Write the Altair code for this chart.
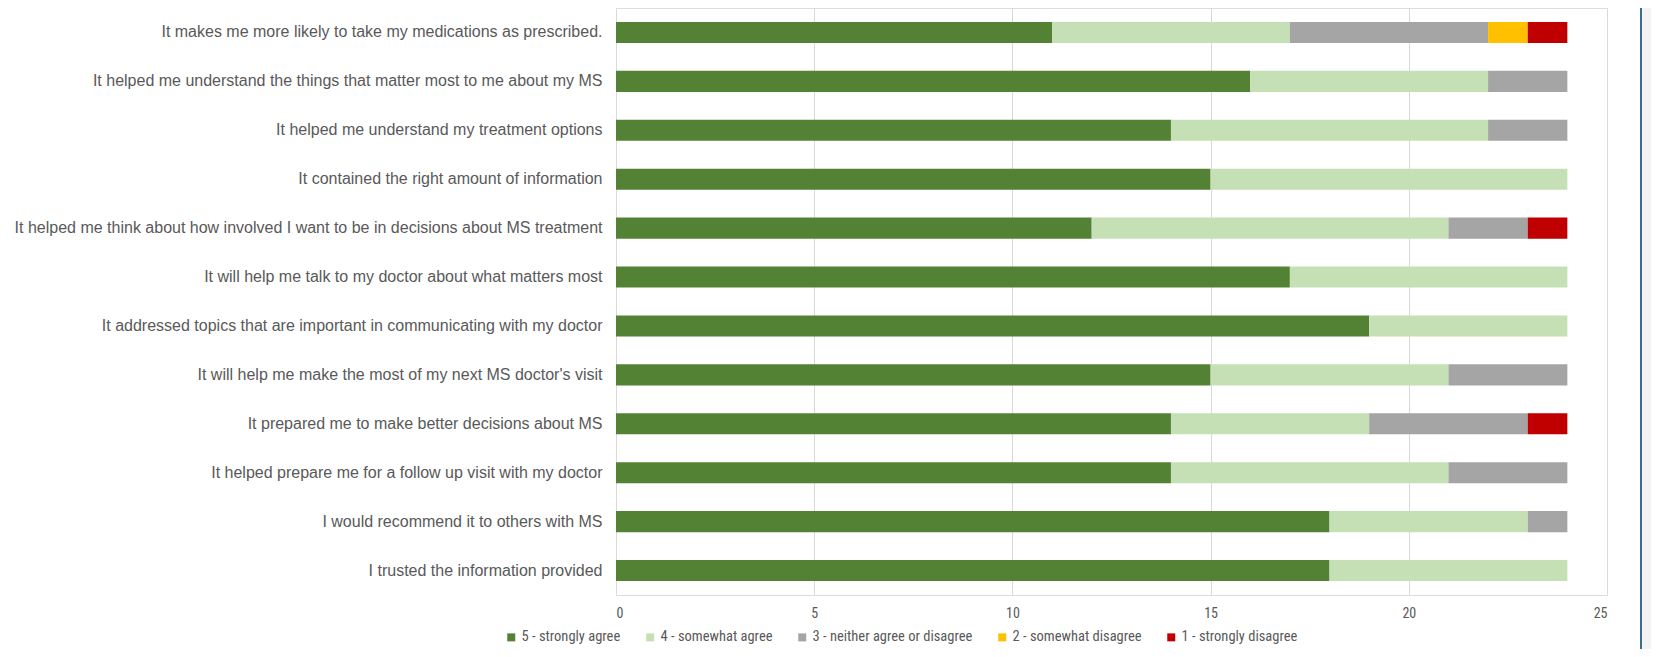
import altair as alt
import pandas as pd

questions = [
    "It makes me more likely to take my medications as prescribed.",
    "It helped me understand the things that matter most to me about my MS",
    "It helped me understand my treatment options",
    "It contained the right amount of information",
    "It helped me think about how involved I want to be in decisions about MS treatment",
    "It will help me talk to my doctor about what matters most",
    "It addressed topics that are important in communicating with my doctor",
    "It will help me make the most of my next MS doctor's visit",
    "It prepared me to make better decisions about MS",
    "It helped prepare me for a follow up visit with my doctor",
    "I would recommend it to others with MS",
    "I trusted the information provided",
]
strongly_agree = [11, 16, 14, 15, 12, 17, 19, 15, 14, 14, 18, 18]
somewhat_agree = [6, 6, 8, 9, 9, 7, 5, 6, 5, 7, 5, 6]
neither = [5, 2, 2, 0, 2, 0, 0, 3, 4, 3, 1, 0]
somewhat_disagree = [1, 0, 0, 0, 0, 0, 0, 0, 0, 0, 0, 0]
strongly_disagree = [1, 0, 0, 0, 1, 0, 0, 0, 1, 0, 0, 0]

categories = [
    "5 - strongly agree",
    "4 - somewhat agree",
    "3 - neither agree or disagree",
    "2 - somewhat disagree",
    "1 - strongly disagree",
]
colors = ["#548235", "#C5E0B4", "#A5A5A5", "#FFC000", "#C00000"]
series = [strongly_agree, somewhat_agree, neither, somewhat_disagree, strongly_disagree]

rows = []
for ci, (cat, vals) in enumerate(zip(categories, series)):
    for q, v in zip(questions, vals):
        rows.append({"question": q, "response": cat, "count": v, "rank": ci})
df = pd.DataFrame(rows)

label_font = "Liberation Sans, Arial, sans-serif"
narrow_font = "Liberation Sans Narrow, Roboto Condensed, Roboto, sans-serif"

bars = alt.Chart(df).mark_bar().encode(
    x=alt.X(
        "sum(count):Q",
        scale=alt.Scale(domain=[0, 25], nice=False),
        stack="zero",
        axis=alt.Axis(
            title=None,
            values=[0, 5, 10, 15, 20, 25],
            domain=False,
            ticks=False,
            grid=True,
            gridColor="#D9D9D9",
            gridWidth=1,
            labelFont=narrow_font,
            labelFontSize=14,
            labelColor="#595959",
            labelPadding=11,
        ),
    ),
    y=alt.Y(
        "question:N",
        sort=questions,
        scale=alt.Scale(paddingInner=0.57, paddingOuter=0.285),
        axis=alt.Axis(
            title=None,
            domain=False,
            ticks=False,
            labelFont=label_font,
            labelFontSize=16,
            labelColor="#595959",
            labelPadding=14,
            labelLimit=700,
        ),
    ),
    color=alt.Color(
        "response:N",
        scale=alt.Scale(domain=categories, range=colors),
        legend=alt.Legend(
            title=None,
            orient="none",
            direction="horizontal",
            legendX=-112,
            legendY=622,
            symbolType="square",
            symbolSize=64,
            symbolStrokeWidth=0,
            labelFont=narrow_font,
            labelFontSize=14.5,
            labelColor="#595959",
            labelLimit=400,
            columnPadding=22,
            labelOffset=3,
        ),
    ),
    order=alt.Order("rank:Q", sort="ascending"),
)

border_bg = alt.Chart(df).mark_rect(color="#F3F3F3").encode(
    x=alt.value(1026), x2=alt.value(1060), y=alt.value(-10), y2=alt.value(700)
)
border_line = alt.Chart(df).mark_rule(color="#3C6E91", strokeWidth=2).encode(
    x=alt.value(1025), y=alt.value(-10), y2=alt.value(700)
)

chart = (
    alt.layer(bars, border_bg, border_line)
    .properties(
        width=991,
        height=587,
        autosize=alt.AutoSizeParams(type="none"),
        padding={"left": 608, "top": 0, "right": 44, "bottom": 54},
    )
    .configure_view(stroke=None)
    .configure(background="white")
)

chart.save("out.html", embed_options={"renderer": "svg", "actions": False})
